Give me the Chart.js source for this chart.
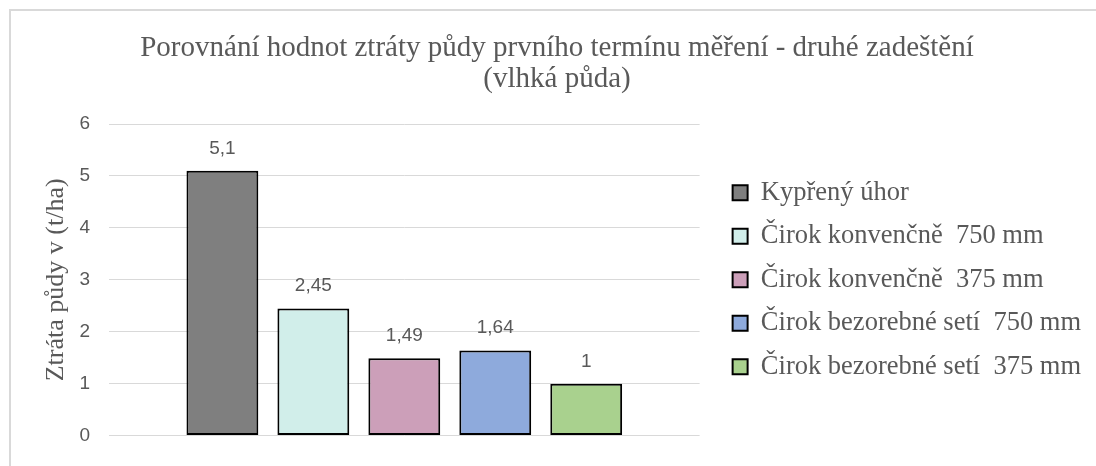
<!DOCTYPE html>
<html>
<head>
<meta charset="utf-8">
<script src="https://cdn.jsdelivr.net/npm/chart.js@4.4.1/dist/chart.umd.min.js"></script>
<style>
  html, body { margin: 0; padding: 0; background: #fff; overflow: hidden; }
  #frame {
    position: absolute; left: 9px; top: 9px;
    width: 1200px; height: 600px;
    border-top: 2px solid #d9d9d9; border-left: 2px solid #d9d9d9;
  }
  #chart { display: block; }
</style>
</head>
<body>
<div id="frame"><canvas id="chart" width="1080" height="455"></canvas></div>
<script>
// data
var categories = [""];
var seriesNames = [
    "Kypřený úhor",
    "Čirok konvenčně  750 mm",
    "Čirok konvenčně  375 mm",
    "Čirok bezorebné setí  750 mm",
    "Čirok bezorebné setí  375 mm"
];
var seriesValues = [5.1, 2.45, 1.49, 1.64, 1];
var seriesColors = ["#7f7f7f", "#d1eeea", "#cc9fb9", "#8eaadc", "#a9d18e"];
var yTicks = [0, 1, 2, 3, 4, 5, 6];

var titleLines = [
    "Porovnání hodnot ztráty půdy prvního termínu měření - druhé zadeštění",
    "(vlhká půda)"
];
var yTitle = "Ztráta půdy v (t/ha)";

var textGrey = "#595959";
var serif = "'Liberation Serif', 'Times New Roman', serif";
var sans = "'Liberation Sans', Arial, sans-serif";

// value labels above the bars (comma decimal)
var barLabels = {
    id: "barLabels",
    afterDatasetsDraw: function (chart) {
        var ctx = chart.ctx;
        ctx.save();
        ctx.font = "19px " + sans;
        ctx.fillStyle = textGrey;
        ctx.textAlign = "center";
        ctx.textBaseline = "alphabetic";
        chart.data.datasets.forEach(function (ds, i) {
            chart.getDatasetMeta(i).data.forEach(function (bar, j) {
                ctx.fillText(String(ds.data[j]).replace(".", ","), bar.x, bar.y - 17);
            });
        });
        ctx.restore();
    }
};

var datasets = seriesNames.map(function (name, i) {
    return {
        label: name,
        data: [seriesValues[i]],
        backgroundColor: seriesColors[i],
        borderColor: "#000",
        borderWidth: 2,
        borderSkipped: false,
        yAxisID: "y"
    };
});

new Chart(document.getElementById("chart").getContext("2d"), {
    type: "bar",
    data: { labels: categories, datasets: datasets },
    plugins: [barLabels],
    options: {
        responsive: false,
        animation: false,
        devicePixelRatio: 1,
        layout: { padding: { left: 12, right: 0, top: 0, bottom: 19 } },
        datasets: {
            bar: { categoryPercentage: 0.77, barPercentage: 0.79 }
        },
        plugins: {
            tooltip: { enabled: false },
            title: {
                display: true,
                text: titleLines,
                color: textGrey,
                font: { family: serif, size: 29, weight: "normal", lineHeight: 1.07 },
                padding: { top: 22, bottom: 29 }
            },
            legend: {
                display: true,
                position: "right",
                fullSize: false,
                maxWidth: 420,
                labels: {
                    color: textGrey,
                    font: { family: serif, size: 26.5 },
                    boxWidth: 15,
                    boxHeight: 15,
                    padding: 17
                }
            }
        },
        scales: {
            x: { display: false },
            y: {
                min: 0,
                max: 6,
                afterBuildTicks: function (scale) {
                    scale.ticks = yTicks.map(function (v) { return { value: v }; });
                },
                afterFit: function (scale) { scale.width = 86; },
                grid: { color: "#d9d9d9", lineWidth: 1, drawTicks: false },
                border: { display: false },
                ticks: {
                    color: textGrey,
                    font: { family: sans, size: 19 },
                    padding: 19
                },
                title: {
                    display: true,
                    text: yTitle,
                    color: textGrey,
                    font: { family: serif, size: 26, lineHeight: 1.2 },
                    padding: { top: 18, bottom: 0 }
                }
            },
            gap: {
                type: "linear",
                position: "right",
                min: 0,
                max: 1,
                grid: { display: false },
                border: { display: false },
                ticks: { display: false },
                afterFit: function (scale) { scale.width = 16; }
            }
        }
    }
});
</script>
</body>
</html>
